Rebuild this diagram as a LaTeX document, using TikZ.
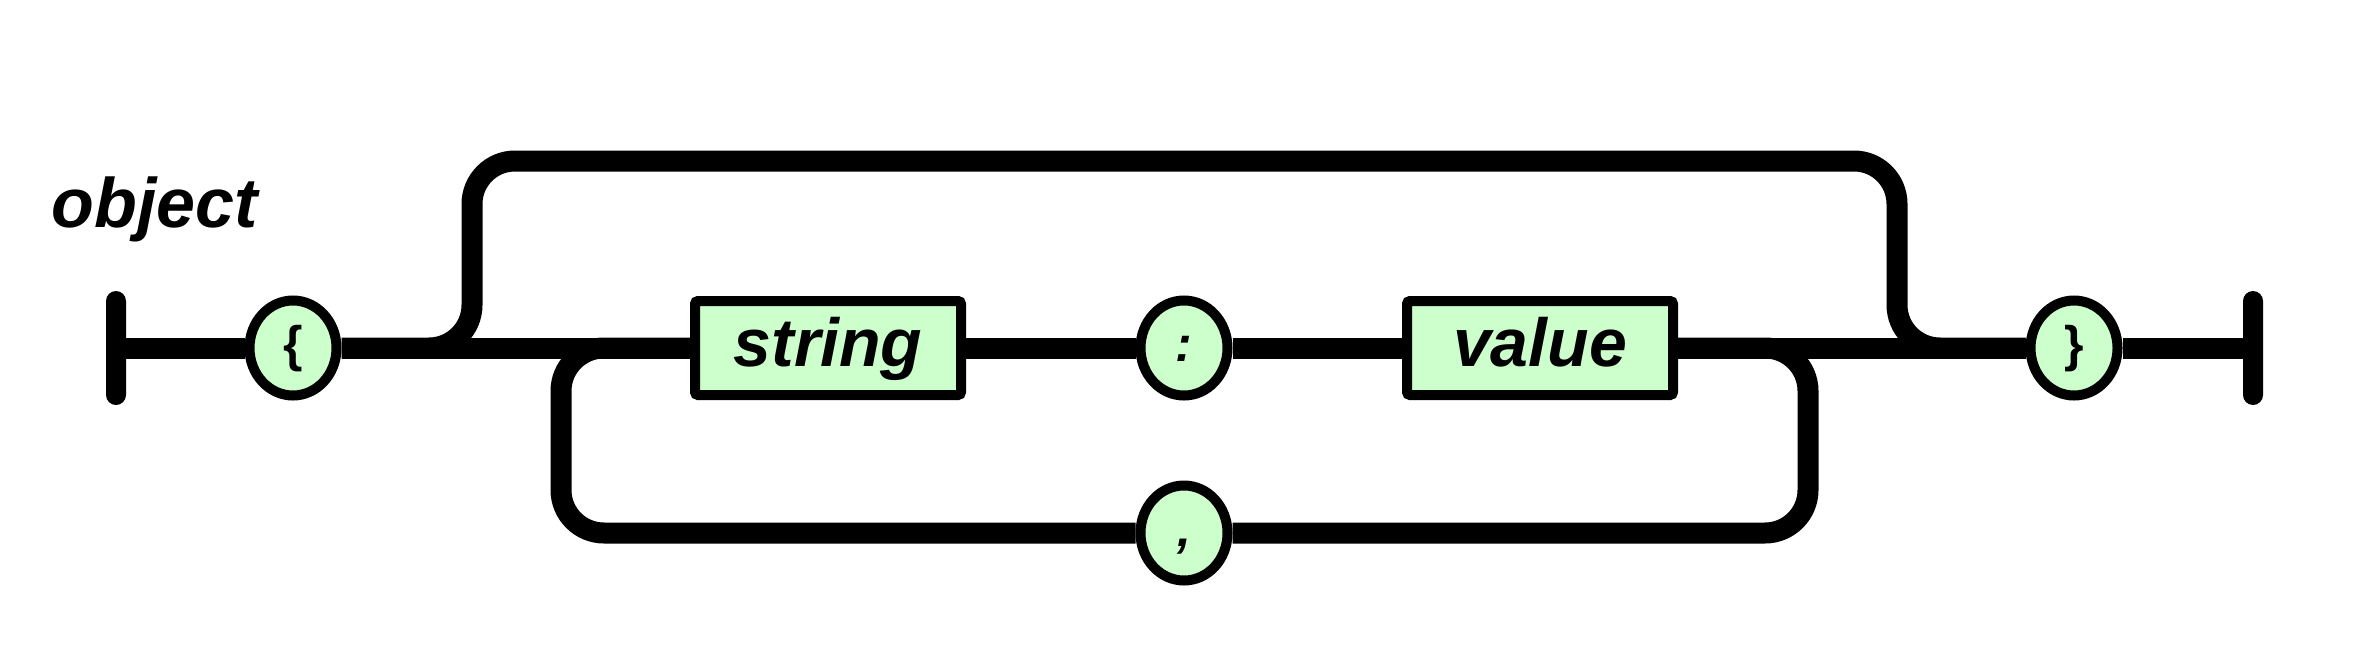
\documentclass[tikz,border=0pt]{standalone}
\usepackage{fontspec}
\setmainfont{Liberation Sans}
\usetikzlibrary{shapes}
\definecolor{termfill}{HTML}{CCFFCC}
\tikzstyle{rail} = [line width=21pt]
\tikzstyle{loop} = [line width=21pt, rounded corners=43pt]
\tikzstyle{stopbar} = [rectangle, fill=black, minimum width=20pt, minimum height=114pt, inner sep=0pt, rounded corners=10pt]
\tikzstyle{railtoken} = [ellipse, draw=black, fill=termfill, line width=10pt, minimum width=87pt, minimum height=95pt, inner sep=0pt, font=\fontsize{50}{50}\selectfont\bfseries\itshape, text height=36pt, text depth=10pt]
\tikzstyle{railbox} = [rectangle, draw=black, fill=termfill, line width=10pt, minimum width=266pt, minimum height=94pt, inner sep=0pt, rounded corners=3pt, font=\fontsize{68}{68}\selectfont\bfseries\itshape, text height=50pt, text depth=14pt]

\begin{document}
\begin{tikzpicture}[x=1pt, y=-1pt]
    \useasboundingbox (0,0) rectangle (2379,659);

    \node (title) [anchor=base west, font=\fontsize{70}{70}\selectfont\bfseries\itshape] at (48,227) {object};

    \node (entry) [stopbar] at (116,348) {};
    \node (lbrace) [railtoken] at (293,348) {\upshape\{};
    \node (str) [railbox] at (828,348) {string};
    \node (colon) [railtoken] at (1184,348) {:};
    \node (val) [railbox] at (1540,348) {value};
    \node (rbrace) [railtoken] at (2074,348) {\upshape\}};
    \node (exit) [stopbar] at (2253,348) {};
    \node (comma) [railtoken] at (1184,533) {,};

    \coordinate (skipL) at (472,161);
    \coordinate (skipR) at (1897,161);
    \coordinate (moreL) at (561,533);
    \coordinate (moreR) at (1808,533);

    \draw[rail] (entry) -- (lbrace);
    \draw[rail] (lbrace) -- (str);
    \draw[rail] (str) -- (colon);
    \draw[rail] (colon) -- (val);
    \draw[rail] (val) -- (rbrace);
    \draw[rail] (rbrace) -- (exit);
    \draw[loop] (lbrace.east) -| (skipL) -- (skipR) |- (rbrace.west);
    \draw[loop] (str.west) -| (moreL) -- (comma.west);
    \draw[loop] (comma.east) -- (moreR) |- (val.east);

\end{tikzpicture}
\end{document}
